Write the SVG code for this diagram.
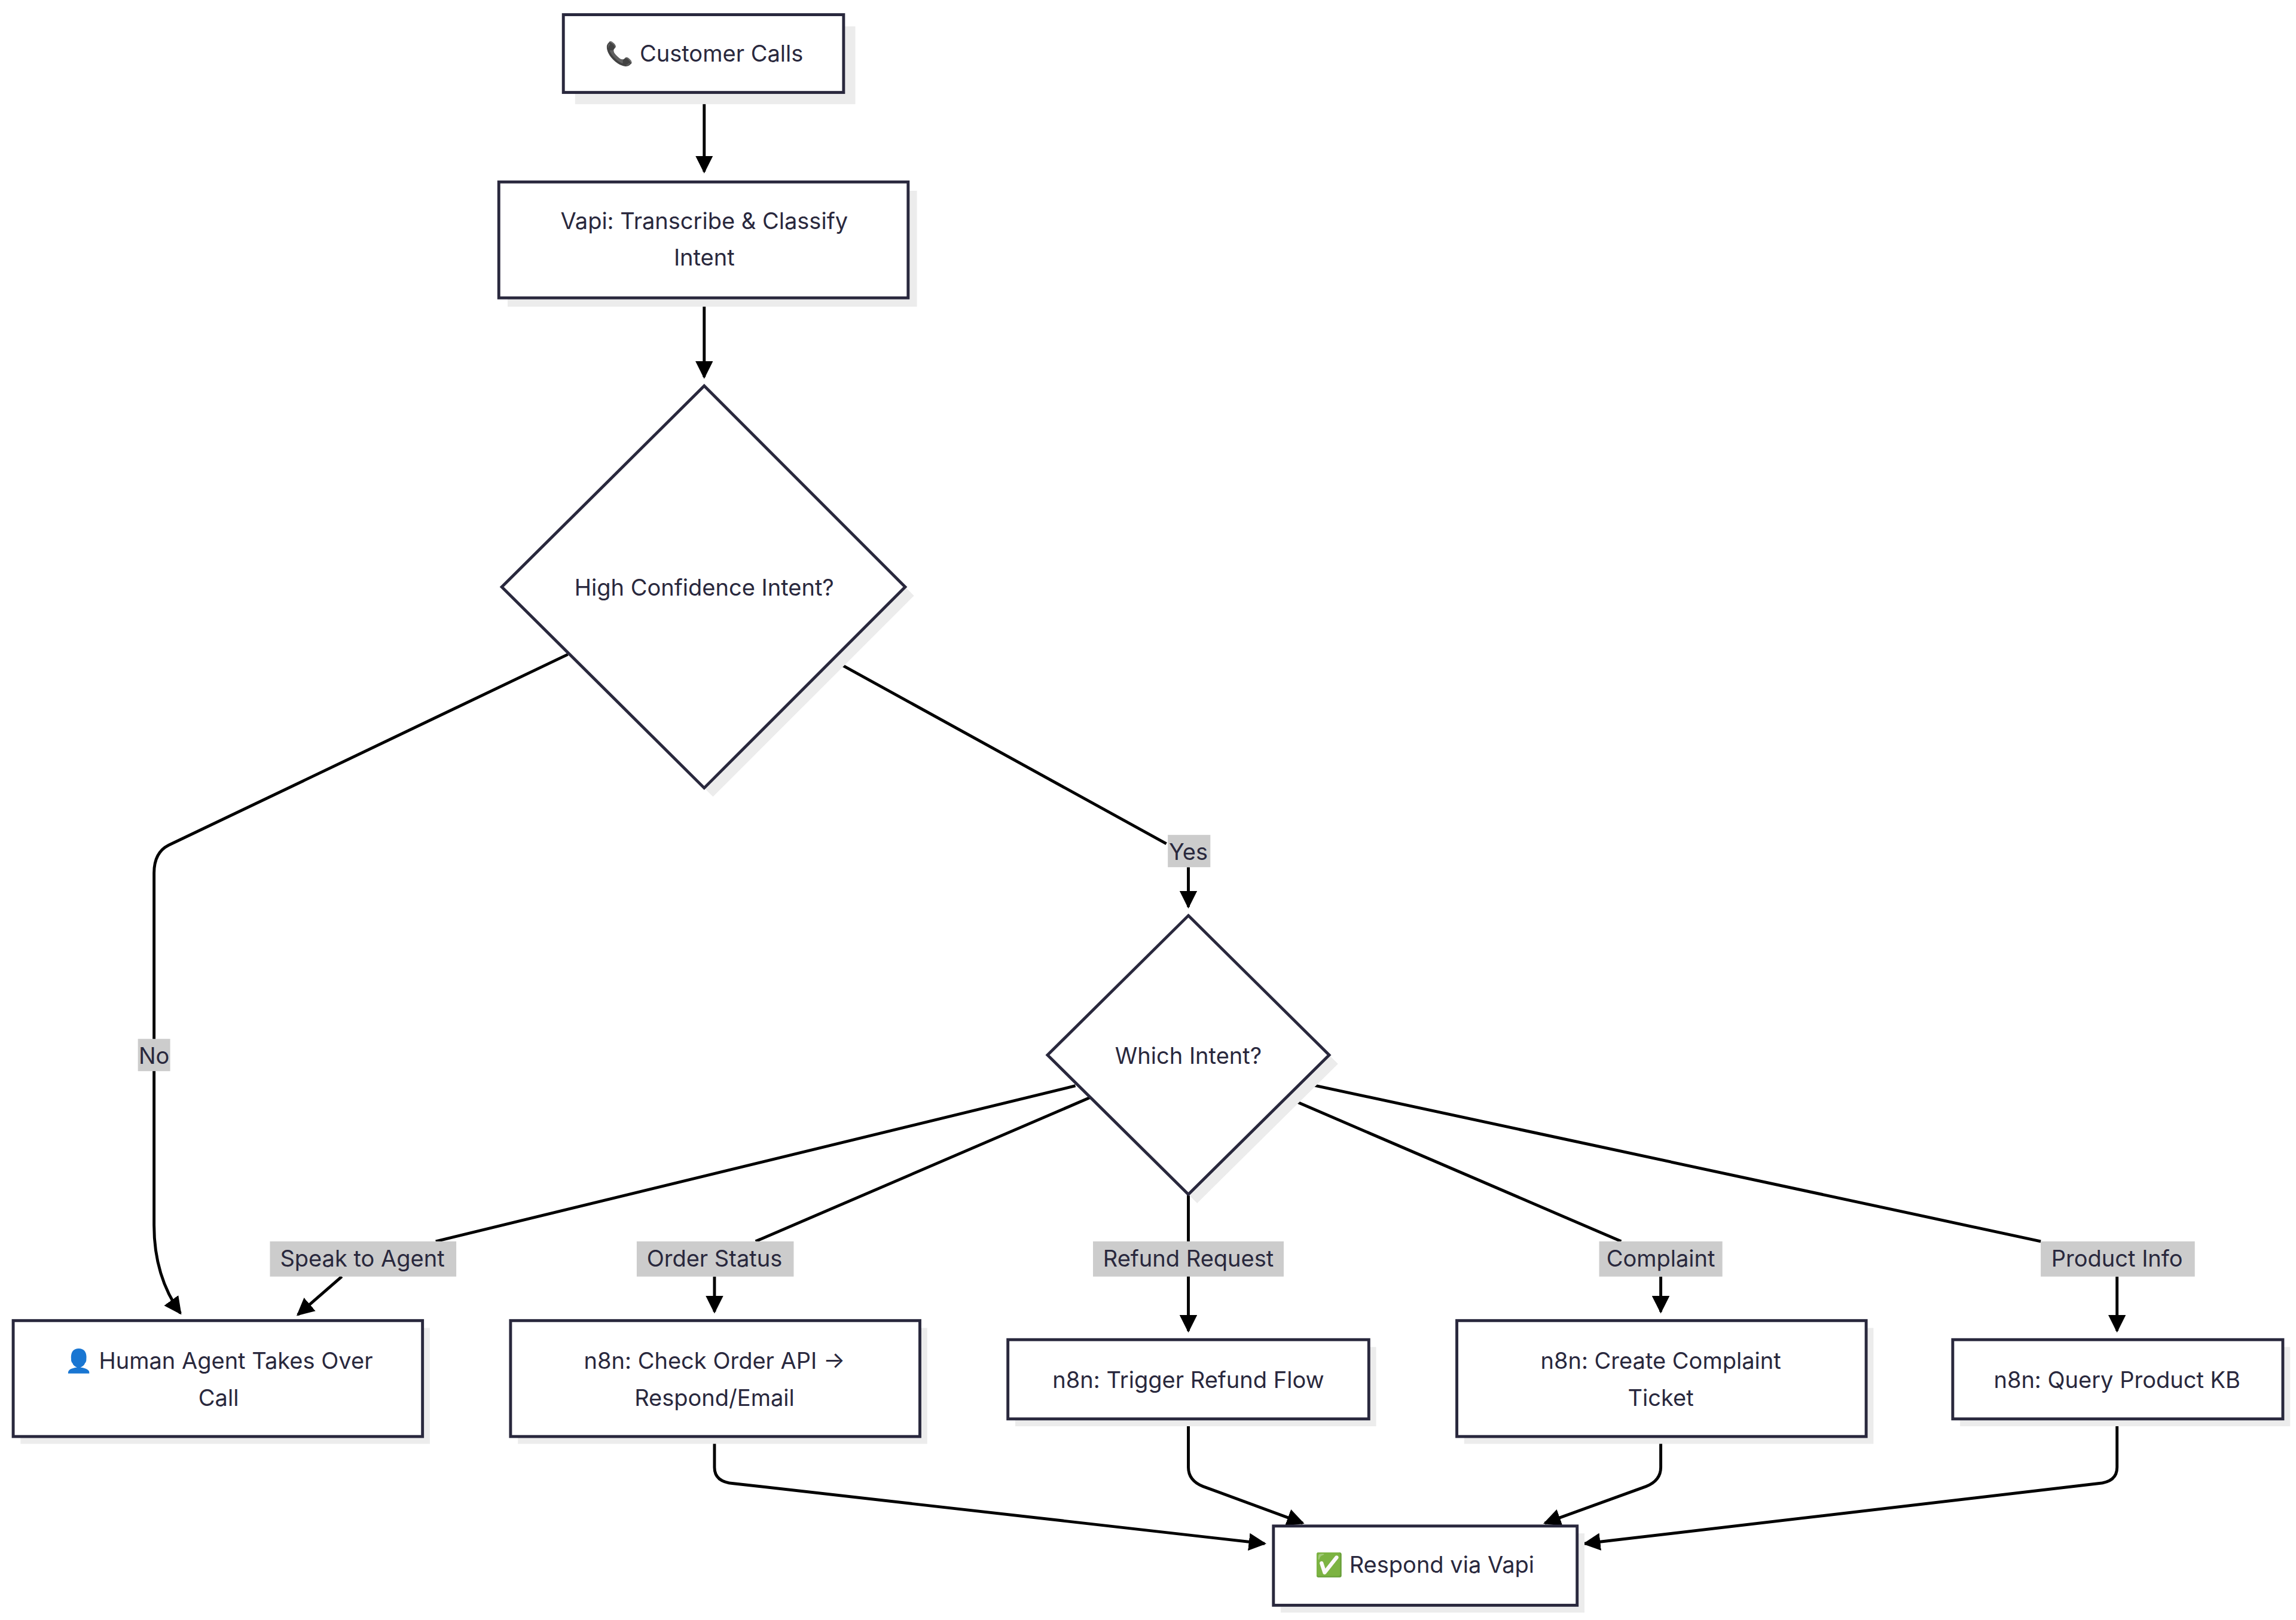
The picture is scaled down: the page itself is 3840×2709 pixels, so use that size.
<svg xmlns="http://www.w3.org/2000/svg" width="3840" height="2709" viewBox="0 0 3840 2709">
<style>
.n{fill:#fff;stroke:#29283d;stroke-width:2}
.sh{fill:#ececec}
.t{font-family:Inter,"Noto Sans","DejaVu Sans",sans-serif;font-size:15.5px;fill:#29283d;text-anchor:middle}
.e{fill:none;stroke:#000;stroke-width:2}
.lb{fill:#cccccc}
</style>
<defs>
<marker id="ah" viewBox="0 0 10 10" refX="9" refY="5" markerWidth="6" markerHeight="6" markerUnits="strokeWidth" orient="auto"><path d="M0,0 L10,5 L0,10 z" fill="#000"/></marker>
</defs>
<rect width="3840" height="2709" fill="#fff"/>
<g transform="scale(2.4537)">
<g id="edges">
<path class="e" d="M480,63 V117" marker-end="url(#ah)"/>
<path class="e" d="M480,203 V257" marker-end="url(#ah)"/>
<path class="e" d="M387,446 L115,576 Q105,581 105,595 V835 Q105,870 123,895" marker-end="url(#ah)"/>
<path class="e" d="M568,450 L795,575 M810,591 V618" marker-end="url(#ah)"/>
<path class="e" d="M733,740 L297,846 M233,870 L203,896" marker-end="url(#ah)"/>
<path class="e" d="M743,748 L515,846 M487,870 V894" marker-end="url(#ah)"/>
<path class="e" d="M810,814 V907" marker-end="url(#ah)"/>
<path class="e" d="M877,748 L1105,846 M1132,870 V894" marker-end="url(#ah)"/>
<path class="e" d="M888,738 L1391,846 M1443,870 V907" marker-end="url(#ah)"/>
<path class="e" d="M487,979 V1000 Q487,1010 500,1011 L862,1052" marker-end="url(#ah)"/>
<path class="e" d="M810,967 V1000 Q810,1009 820,1013 L888,1038" marker-end="url(#ah)"/>
<path class="e" d="M1132,979 V1000 Q1132,1009 1122,1013 L1053,1038" marker-end="url(#ah)"/>
<path class="e" d="M1443,967 V1000 Q1443,1010 1430,1011 L1080,1052" marker-end="url(#ah)"/>
<rect class="lb" x="796" y="569" width="29" height="22"/><text class="t" x="810" y="586">Yes</text>
<rect class="lb" x="94" y="708" width="22" height="22"/><text class="t" x="105" y="725">No</text>
<rect class="lb" x="184" y="846" width="127" height="24"/><text class="t" x="247" y="863">Speak to Agent</text>
<rect class="lb" x="434" y="846" width="107" height="24"/><text class="t" x="487" y="863">Order Status</text>
<rect class="lb" x="745" y="846" width="130" height="24"/><text class="t" x="810" y="863">Refund Request</text>
<rect class="lb" x="1090" y="846" width="84" height="24"/><text class="t" x="1132" y="863">Complaint</text>
<rect class="lb" x="1391" y="846" width="105" height="24"/><text class="t" x="1443" y="863">Product Info</text>
</g>
<g id="A"><rect class="sh" x="392" y="18" width="191" height="53"/><rect class="n" x="384" y="10" width="191" height="53"/><text class="t" x="480" y="42">📞 Customer Calls</text></g>
<g id="B"><rect class="sh" x="346" y="130" width="279" height="79"/><rect class="n" x="340" y="124" width="279" height="79"/><text class="t" x="480" y="156">Vapi: Transcribe &amp; Classify</text><text class="t" x="480" y="181">Intent</text></g>
<g id="C"><path class="sh" d="M486,269 L623,406 L486,543 L348,406 Z"/><path class="n" d="M480,263 L617,400 L480,537 L342,400 Z"/><text class="t" x="480" y="406">High Confidence Intent?</text></g>
<g id="D"><path class="sh" d="M816,630 L912,725 L816,820 L720,725 Z"/><path class="n" d="M810,624 L906,719 L810,814 L714,719 Z"/><text class="t" x="810" y="725">Which Intent?</text></g>
<g id="E"><rect class="sh" x="14" y="905" width="279" height="79"/><rect class="n" x="9" y="900" width="279" height="79"/><text class="t" x="149" y="933">👤 Human Agent Takes Over</text><text class="t" x="149" y="958">Call</text></g>
<g id="F"><rect class="sh" x="353" y="905" width="279" height="79"/><rect class="n" x="348" y="900" width="279" height="79"/><text class="t" x="487" y="933">n8n: Check Order API →</text><text class="t" x="487" y="958">Respond/Email</text></g>
<g id="G"><rect class="sh" x="692" y="918" width="246" height="54"/><rect class="n" x="687" y="913" width="246" height="54"/><text class="t" x="810" y="946">n8n: Trigger Refund Flow</text></g>
<g id="H"><rect class="sh" x="998" y="905" width="279" height="79"/><rect class="n" x="993" y="900" width="279" height="79"/><text class="t" x="1132" y="933">n8n: Create Complaint</text><text class="t" x="1132" y="958">Ticket</text></g>
<g id="I"><rect class="sh" x="1336" y="918" width="225" height="54"/><rect class="n" x="1331" y="913" width="225" height="54"/><text class="t" x="1443" y="946">n8n: Query Product KB</text></g>
<g id="J"><rect class="sh" x="873" y="1045" width="207" height="54"/><rect class="n" x="868" y="1040" width="207" height="54"/><text class="t" x="971" y="1072">✅ Respond via Vapi</text></g>
</g>
</svg>
